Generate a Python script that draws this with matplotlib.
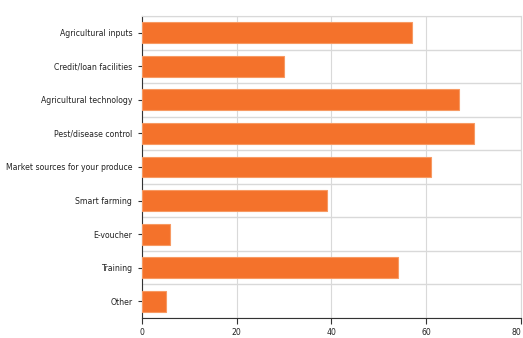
import matplotlib
matplotlib.use("Agg")
import matplotlib.pyplot as plt
import numpy as np
from matplotlib import font_manager

categories = ["Agricultural inputs", "Credit/loan facilities", "Agricultural technology",
              "Pest/disease control", "Market sources for your produce", "Smart farming",
              "E-voucher", "Training", "Other"]
values = [57, 30, 67, 70, 61, 39, 6, 54, 5]
xticks = [0, 20, 40, 60, 80]

names = {f.name for f in font_manager.fontManager.ttflist}
fam = [n for n in ["Liberation Sans Narrow", "DejaVu Sans"] if n in names]
plt.rcParams['font.family'] = fam
plt.rcParams['font.stretch'] = 'condensed'

fig = plt.figure(figsize=(5.23, 3.38), dpi=100)
ax = fig.add_axes([0.2715, 0.0592, 0.7245, 0.8935])

y = np.arange(len(categories))
ax.barh(y, values, height=0.62, color="#F4722B", edgecolor="#F79A63", linewidth=0.8, zorder=3)
ax.set_ylim(len(categories) - 0.5, -0.5)
ax.set_xlim(0, 80)
ax.set_xticks(xticks)
xl = ax.set_xticklabels([str(t) for t in xticks], fontsize=6.2, color="#222222", fontstretch='condensed')
xl[-1].set_horizontalalignment('right')
ax.set_yticks(y)
ax.set_yticklabels(categories, fontsize=6.2, color="#222222", fontstretch='condensed')
ax.set_yticks(np.arange(len(categories) + 1) - 0.5, minor=True)
ax.tick_params(axis='y', which='minor', length=0)
ax.tick_params(axis='y', which='major', length=3, width=0.8, color="#333333", pad=4)
ax.tick_params(axis='x', which='major', length=4, width=0.8, color="#333333", pad=3)

ax.grid(axis='x', which='major', color="#d9d9d9", linewidth=0.8, zorder=0)
ax.grid(axis='y', which='minor', color="#d9d9d9", linewidth=1.0, zorder=0)
ax.set_axisbelow(True)

for s in ['top', 'right']:
    ax.spines[s].set_color("#d9d9d9")
    ax.spines[s].set_linewidth(0.8)
for s in ['left', 'bottom']:
    ax.spines[s].set_color("#333333")
    ax.spines[s].set_linewidth(0.8)

fig.savefig("out.png", dpi=100)
